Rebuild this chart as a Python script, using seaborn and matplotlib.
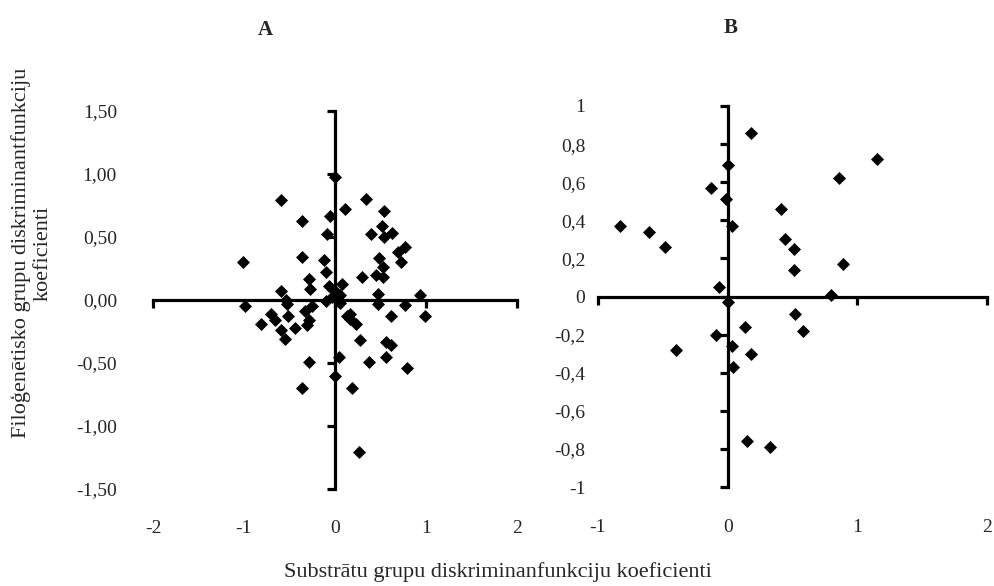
import matplotlib
matplotlib.use("Agg")
import matplotlib.pyplot as plt
import seaborn as sns
import pandas as pd

# Panel A: discriminant function coefficients (substrate vs phylogenetic groups)
a_x = [0.00, -0.59, 0.34, 0.11, -0.06, 0.54, -0.36, 0.52, -0.09, 0.40,
       0.54, 0.63, 0.77, 0.69, 0.72, -1.01, -0.36, -0.12, 0.48, 0.53,
       -0.10, 0.30, 0.45, 0.53, -0.29, -0.27, -0.07, 0.08, -0.59, 0.00,
       0.47, 0.93, -0.54, 0.47, -0.99, -0.53, -0.10, -0.25, 0.77, -0.70,
       -0.81, -0.52, -0.33, -0.29, -0.31, 0.17, 0.16, 0.23, 0.13, 0.62,
       0.99, -0.66, -0.59, -0.44, -0.55, 0.27, 0.56, 0.62, 0.56, -0.29,
       0.04, 0.37, 0.79, 0.00, -0.36, 0.19, 0.26, 0.05, -0.03, 0.06]
a_y = [0.98, 0.79, 0.80, 0.72, 0.67, 0.71, 0.63, 0.59, 0.52, 0.52,
       0.50, 0.53, 0.42, 0.38, 0.30, 0.30, 0.34, 0.32, 0.33, 0.26,
       0.22, 0.18, 0.20, 0.18, 0.17, 0.09, 0.11, 0.13, 0.07, 0.07,
       0.05, 0.04, 0.00, -0.03, -0.05, -0.03, -0.01, -0.05, -0.04, -0.11,
       -0.19, -0.13, -0.09, -0.16, -0.20, -0.11, -0.15, -0.19, -0.13, -0.13,
       -0.13, -0.16, -0.24, -0.22, -0.31, -0.32, -0.33, -0.36, -0.45, -0.49,
       -0.45, -0.49, -0.54, -0.60, -0.70, -0.70, -1.21, 0.04, 0.02, -0.02]

# Panel B
b_x = [0.18, 1.15, 0.00, 0.86, -0.13, -0.01, 0.41, -0.83, 0.03, -0.61,
       -0.48, 0.44, 0.51, 0.89, 0.51, -0.07, 0.80, 0.00, 0.52, 0.58,
       0.13, -0.09, 0.03, -0.40, 0.18, 0.04, 0.15, 0.33]
b_y = [0.86, 0.72, 0.69, 0.62, 0.57, 0.51, 0.46, 0.37, 0.37, 0.34,
       0.26, 0.30, 0.25, 0.17, 0.14, 0.05, 0.01, -0.03, -0.09, -0.18,
       -0.16, -0.20, -0.26, -0.28, -0.30, -0.37, -0.76, -0.79]

a_xticks = [-2, -1, 0, 1, 2]
a_yticks = [-1.5, -1.0, -0.5, 0.0, 0.5, 1.0, 1.5]
a_ylabels = ["-1,50", "-1,00", "-0,50", "0,00", "0,50", "1,00", "1,50"]
b_xticks = [-1, 0, 1, 2]
b_yticks = [-1.0, -0.8, -0.6, -0.4, -0.2, 0.0, 0.2, 0.4, 0.6, 0.8, 1.0]
b_ylabels = ["-1", "-0,8", "-0,6", "-0,4", "-0,2", "0", "0,2", "0,4", "0,6", "0,8", "1"]

panel_titles = ["A", "B"]
x_title = "Substrātu grupu diskriminanfunkciju koeficienti"
y_title = "Filoģenētisko grupu diskriminantfunkciju\nkoeficienti"

sns.set_style("white")
plt.rcParams["font.family"] = ["Liberation Serif", "DejaVu Serif"]

W, H = 995, 586
fig = plt.figure(figsize=(W / 100, H / 100), dpi=100)

ax_a = fig.add_axes([153 / W, (H - 489) / H, 364 / W, 378 / H])
ax_b = fig.add_axes([598 / W, (H - 487) / H, 389 / W, 381 / H])

FS = 14
LW = 2.3


def setup(ax, xs, ys, xlim, ylim, xticks, yticks, ylabels, ypad, xpad):
    df = pd.DataFrame({"x": xs, "y": ys})
    sns.scatterplot(data=df, x="x", y="y", ax=ax, marker="D", color="black",
                    s=44, linewidth=0, zorder=3)
    ax.set_xlim(*xlim)
    ax.set_ylim(*ylim)
    ax.set_xlabel("")
    ax.set_ylabel("")
    ax.patch.set_alpha(0)
    # axes crossing at the origin, ticks pointing outward
    for side in ["top", "right"]:
        ax.spines[side].set_visible(False)
    for side in ["left", "bottom"]:
        ax.spines[side].set_position(("data", 0))
        ax.spines[side].set_linewidth(LW)
        ax.spines[side].set_color("black")
        ax.spines[side].set_zorder(2)
    ax.set_xticks(xticks)
    ax.set_yticks(yticks)
    ax.tick_params(axis="both", direction="out", length=6, width=LW,
                   color="black", bottom=True, left=True,
                   labelleft=False, labelbottom=False)
    # tick labels sit on the outer edge of the plot area
    sy = ax.secondary_yaxis(0)
    sy.set_yticks(yticks, labels=ylabels)
    sy.tick_params(length=0, pad=ypad, labelsize=FS)
    sy.spines["left"].set_visible(False)
    sx = ax.secondary_xaxis(0)
    sx.set_xticks(xticks, labels=[str(t) for t in xticks])
    sx.tick_params(length=0, pad=xpad, labelsize=FS)
    sx.spines["bottom"].set_visible(False)


setup(ax_a, a_x, a_y, (-2, 2), (-1.5, 1.5), a_xticks, a_yticks, a_ylabels,
      ypad=26, xpad=22)
setup(ax_b, b_x, b_y, (-1, 2), (-1, 1), b_xticks, b_yticks, b_ylabels,
      ypad=9, xpad=23)

fig.text(265 / W, 1 - 30 / H, panel_titles[0], ha="center", va="center",
         fontsize=15, fontweight="bold")
fig.text(731 / W, 1 - 28 / H, panel_titles[1], ha="center", va="center",
         fontsize=15, fontweight="bold")
fig.text(498 / W, 1 - 572 / H, x_title, ha="center", va="center", fontsize=16)
fig.text(32 / W, 1 - 253 / H, y_title, ha="center", va="center",
         rotation=90, fontsize=16, multialignment="center", linespacing=1.15)

fig.savefig("out.png", dpi=100)
